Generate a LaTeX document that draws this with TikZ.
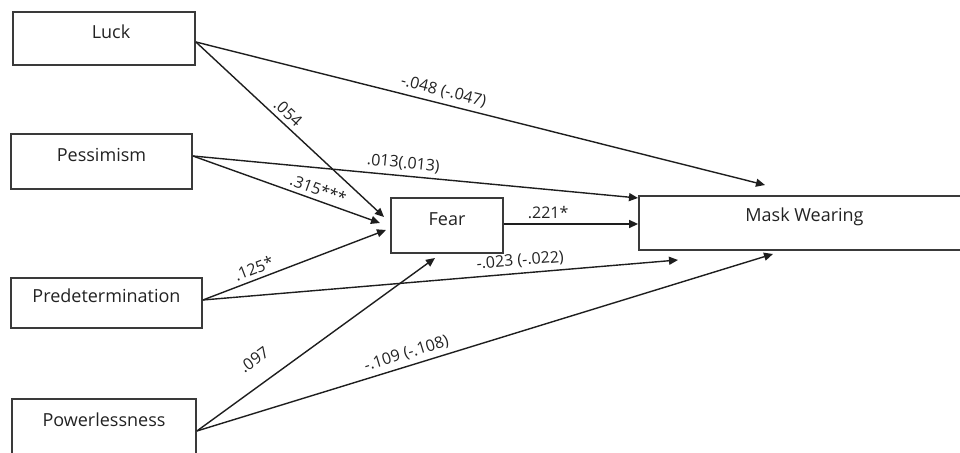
\documentclass[tikz,border=0pt]{standalone}
\usepackage{fontspec}
\setmainfont{Open Sans}
\usetikzlibrary{positioning,arrows.meta,calc}
\definecolor{boxline}{HTML}{3A3A3A}
\definecolor{pathline}{HTML}{1E1E1E}
\definecolor{labtext}{HTML}{222222}

\begin{document}
\begin{tikzpicture}[x=0.5pt,y=-0.5pt,
    var/.style={draw=boxline, line width=0.9pt, text=labtext, inner sep=0pt,
      font=\fontsize{9}{11}\selectfont, text height=7pt, text depth=7pt},
    link/.style={draw=pathline, line width=0.7pt, -{Triangle[length=4.5pt,width=4pt]}},
    coef/.style={font=\fontsize{8}{10}\selectfont, text=labtext, sloped, above, inner sep=2.2pt}]
    \useasboundingbox (0,0) rectangle (960,453);
    % predictors
    \node[var, minimum width=91pt, minimum height=26.5pt] (luck) at (104,38.5) {\hspace{7pt}Luck};
    \node[var, minimum width=90.5pt, minimum height=27.5pt] (pess) at (101.5,161.5) {Pessimism};
    \node[var, minimum width=95.5pt, minimum height=25pt] (pred) at (106.5,303) {Predetermination};
    \node[var, minimum width=92pt, minimum height=29.5pt, text depth=9pt] (power) at (104,428.5) {Powerlessness};
    % mediator and outcome
    \node[var, minimum width=56pt, minimum height=27.5pt] (fear) at (447,225.5) {Fear};
    \node[var, minimum width=165.5pt, minimum height=27pt, text depth=8pt] (mask) at (804.5,223) {Mask Wearing};
    % arrow tips
    \coordinate (fearA) at (384,217);
    \coordinate (fearB) at (380,223);
    \coordinate (fearC) at (386,230);
    \coordinate (fearD) at (435,258);
    \coordinate (maskA) at (765,185);
    \coordinate (maskB) at (638,198);
    \coordinate (maskC) at (678,260);
    \coordinate (maskD) at (773,254);
    \foreach \from/\dy/\to/\p/\lab in {
        luck/-1.75pt/fearA/0.45/.054,
        luck/-1.75pt/maskA/0.43/-.048 (-.047),
        pess/2.75pt/fearB/0.65/.315***,
        pess/2.75pt/maskB/0.47/.013(.013),
        pred/1.5pt/fearC/0.30/.125*,
        pred/1.5pt/maskC/0.67/-.023 (-.022),
        power/-1.25pt/maskD/0.37/-.109 (-.108)}
      \draw[link] ([yshift=\dy]\from.east) -- (\to) node[coef, pos=\p]{\lab};
    \draw[link] ([yshift=-1.25pt]power.east) -- (fearD) node[coef, pos=0.3, above=6.5pt]{.097};
    \draw[link] ([yshift=0.75pt]fear.east) -- ([yshift=0.75pt]fear.east -| mask.west) node[coef, pos=0.33]{.221*};
\end{tikzpicture}
\end{document}
